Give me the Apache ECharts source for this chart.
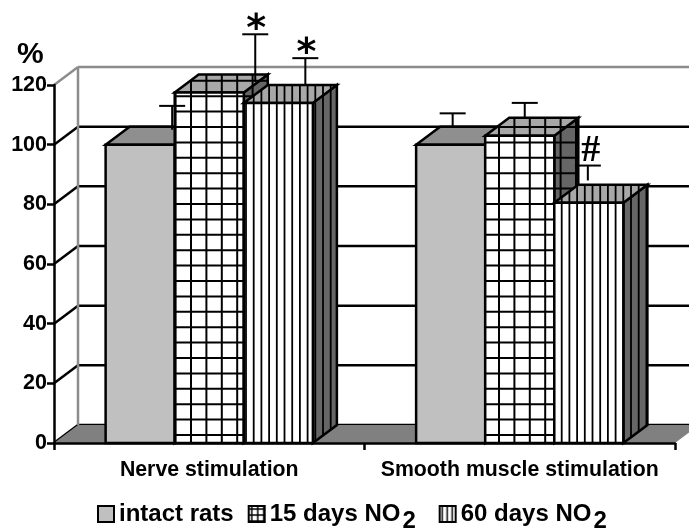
<!DOCTYPE html>
<html><head><meta charset="utf-8">
<style>html,body{margin:0;padding:0;background:#fff}#c{width:689px;height:529px}</style>
<script src="https://cdn.jsdelivr.net/npm/echarts@6/dist/echarts.min.js"></script>
</head><body><div id="c"></div>
<script>
// ---- data ----
const categories = ['Nerve stimulation', 'Smooth muscle stimulation'];
const tickValues = [0, 20, 40, 60, 80, 100, 120];
const seriesNames = ['intact rats', '15 days NO2', '60 days NO2'];
const intactRats = [100, 100];
const days15 = [117.5, 103];
const days60 = [114, 80.5];
const intactErrHigh = [113, 110.5];
const days15ErrHigh = [137, 114];
const days60ErrHigh = [129, 93];
const intactErrLow = [105, 106];
const days15ErrLow = [121, 109];
const days60ErrLow = [120, 88];
const intactMarks = ['', ''];
const days15Marks = ['*', ''];
const days60Marks = ['*', '#'];

// ---- layout / style ----
const DX = 24, DY = 18, BAR_W = 0.2225, FONT = '"Liberation Sans", Arial, sans-serif';
const errShift = [[32, 2], [46, 5], [27, -1]];
function pattern(period, n, bg, cross, phaseX, phaseY, lw) {
  const s = Math.round(period * n), c = document.createElement('canvas');
  c.width = s; c.height = s;
  const g = c.getContext('2d');
  g.fillStyle = bg; g.fillRect(0, 0, s, s);
  g.strokeStyle = '#000'; g.lineWidth = lw;
  for (let i = -1; i <= n; i++) {
    const p = phaseX + i * period;
    g.beginPath(); g.moveTo(p, 0); g.lineTo(p, s); g.stroke();
    if (cross) {
      const q = phaseY + i * period;
      g.beginPath(); g.moveTo(0, q); g.lineTo(s, q); g.stroke();
    }
  }
  return { image: c, repeat: 'repeat' };
}
const crossP = bg => pattern(15.4, 5, bg, true, 6.2, 3.8, 2);
const vertP = bg => pattern(7.7, 10, bg, false, 7.3, 0, 1.8);
const styles = [
  { front: '#c0c0c0', top: '#8f8f8f', side: '#666666' },
  { front: crossP('#ffffff'), top: crossP('#a8a8a8'), side: crossP('#666666') },
  { front: vertP('#ffffff'), top: vertP('#a8a8a8'), side: vertP('#666666') }
];
const legendFills = [
  '#c0c0c0',
  pattern(6, 5, '#ffffff', true, 3, 3, 1.5),
  pattern(5, 6, '#ffffff', false, 2.5, 0, 1.5)
];

const edge = { stroke: '#000', lineWidth: 2.5, lineJoin: 'miter' };
function barRenderer(idx) {
  const st = styles[idx];
  return function (params, api) {
    const band = api.size([1, 0])[0], w = band * BAR_W;
    const p = api.coord([api.value(0), api.value(1)]);
    const base = api.coord([api.value(0), 0]);
    const xL = p[0] + (idx - 1.5) * w, xR = xL + w, yT = p[1], yB = base[1];
    return {
      type: 'group',
      children: [
        { type: 'polygon', shape: { points: [[xR, yT], [xR + DX, yT - DY], [xR + DX, yB - DY], [xR, yB]] },
          style: Object.assign({ fill: st.side }, edge) },
        { type: 'polygon', shape: { points: [[xL, yT], [xL + DX, yT - DY], [xR + DX, yT - DY], [xR, yT]] },
          style: Object.assign({ fill: st.top }, edge) },
        { type: 'rect', shape: { x: xL, y: yT, width: w, height: yB - yT },
          style: Object.assign({ fill: st.front }, edge) }
      ]
    };
  };
}
function errRenderer(idx) {
  return function (params, api) {
    const c = api.value(0);
    const hi = api.coord([c, api.value(2)]), lo = api.coord([c, api.value(3)]);
    const w = api.size([1, 0])[0] * BAR_W;
    const x = hi[0] + (idx - 1) * w + errShift[idx][c];
    const line = { stroke: '#000', lineWidth: 2 };
    const kids = [
      { type: 'line', shape: { x1: x, y1: hi[1], x2: x, y2: lo[1] }, style: line },
      { type: 'line', shape: { x1: x - 13, y1: hi[1], x2: x + 13, y2: hi[1] }, style: line }
    ];
    const mark = markSets[idx][c];
    if (mark) {
      kids.push({ type: 'text', style: {
        text: mark, x: x + (mark === '#' ? 3 : 1), y: hi[1] + (mark === '#' ? 5 : 15), align: 'center', verticalAlign: 'bottom',
        font: (mark === '#' ? 'bold 38px "Liberation Serif"' : 'bold 38px "DejaVu Sans"'), fill: '#000' } });
    }
    return { type: 'group', children: kids };
  };
}
const valueSets = [intactRats, days15, days60];
const highSets = [intactErrHigh, days15ErrHigh, days60ErrHigh];
const lowSets = [intactErrLow, days15ErrLow, days60ErrLow];
const markSets = [intactMarks, days15Marks, days60Marks];

const series = [];
// back wall
series.push({
  type: 'custom', name: 'wall', silent: true, clip: false, z: 1,
  data: tickValues.map(v => [0, v]),
  encode: { x: 0, y: 1 },
  renderItem(params, api) {
    const g = params.coordSys, y = api.coord([0, api.value(1)])[1], v = api.value(1);
    const col = v === 120 ? '#8c8c8c' : '#000';
    return { type: 'group', children: [
      { type: 'line', shape: { x1: g.x, y1: y, x2: g.x + DX, y2: y - DY }, style: { stroke: col, lineWidth: 2.5 } },
      { type: 'line', shape: { x1: g.x + DX, y1: y - DY, x2: g.x + g.width + DX, y2: y - DY }, style: { stroke: col, lineWidth: 2.5 } }
    ] };
  }
});
// floor and left wall edge
series.push({
  type: 'custom', name: 'floor', silent: true, clip: false, z: 1,
  data: [[0, 0, 120]],
  encode: { x: 0, y: 1 },
  renderItem(params, api) {
    const g = params.coordSys, y0 = api.coord([0, api.value(1)])[1], y1 = api.coord([0, api.value(2)])[1];
    return { type: 'group', children: [
      { type: 'line', shape: { x1: g.x + DX, y1: y1 - DY, x2: g.x + DX, y2: y0 - DY }, style: { stroke: '#8c8c8c', lineWidth: 2.5 } },
      { type: 'polygon', shape: { points: [[g.x, y0], [g.x + DX, y0 - DY], [g.x + g.width + DX, y0 - DY], [g.x + g.width, y0]] }, style: { fill: '#808080' } }
    ] };
  }
});
// bars
valueSets.forEach((vals, i) => {
  series.push({
    type: 'custom', name: seriesNames[i], silent: true, clip: false, z: 2,
    itemStyle: { color: legendFills[i] },
    data: vals.map((v, c) => [c, v]),
    encode: { x: 0, y: 1 },
    renderItem: barRenderer(i)
  });
});
// error bars and significance marks
valueSets.forEach((vals, i) => {
  series.push({
    type: 'custom', name: 'err' + i, silent: true, clip: false, z: 3,
    data: vals.map((v, c) => [c, v, highSets[i][c], lowSets[i][c]]),
    encode: { x: 0, y: 1 },
    renderItem: errRenderer(i)
  });
});

const chart = echarts.init(document.getElementById('c'), null, { renderer: 'canvas' });
chart.setOption({
  animation: false,
  backgroundColor: '#fff',
  grid: { left: 54, right: 14, top: 85, bottom: 86, containLabel: false },
  xAxis: {
    type: 'category', data: categories, boundaryGap: true, z: 5,
    axisLine: { lineStyle: { color: '#000', width: 2.5 } },
    axisTick: { show: true, interval: 0, length: 7, lineStyle: { color: '#000', width: 2.5 } },
    axisLabel: { color: '#000', fontFamily: FONT, fontWeight: 'bold', fontSize: 21.3, margin: 17, interval: 0, hideOverlap: false },
    splitLine: { show: false }
  },
  yAxis: {
    type: 'value', min: 0, max: 120, interval: 20, z: 5,
    axisLine: { show: true, lineStyle: { color: '#000', width: 2.5 } },
    axisTick: { show: true, length: 7, lineStyle: { color: '#000', width: 2.5 } },
    axisLabel: { color: '#000', fontFamily: FONT, fontWeight: 'bold', fontSize: 21.5, margin: 7 },
    splitLine: { show: false }
  },
  legend: {
    left: 92, top: 497, icon: 'rect', itemWidth: 16, itemHeight: 16, itemGap: 14,
    selectedMode: false,
    data: seriesNames.map((n, i) => ({
      name: n,
      itemStyle: { color: legendFills[i], borderColor: '#000', borderWidth: 2 }
    })),
    formatter(n) {
      return n.endsWith('NO2') ? '{a|' + n.slice(0, -1) + '}{b|2}{c|\u00a0\u00a0}' : '{a|' + n + '}';
    },
    textStyle: {
      rich: {
        a: { fontFamily: FONT, fontWeight: 'bold', fontSize: 24, color: '#000', verticalAlign: 'middle' },
        b: { fontFamily: FONT, fontWeight: 'bold', fontSize: 24, color: '#000', padding: [14, 0, 0, 2], verticalAlign: 'middle' },
        c: { fontFamily: FONT, fontSize: 16, color: '#000', verticalAlign: 'middle' }
      }
    }
  },
  graphic: [{ type: 'text', left: 17, top: 40, style: { text: '%', font: 'bold 30px ' + FONT, fill: '#000' } }],
  series
});
</script></body></html>
